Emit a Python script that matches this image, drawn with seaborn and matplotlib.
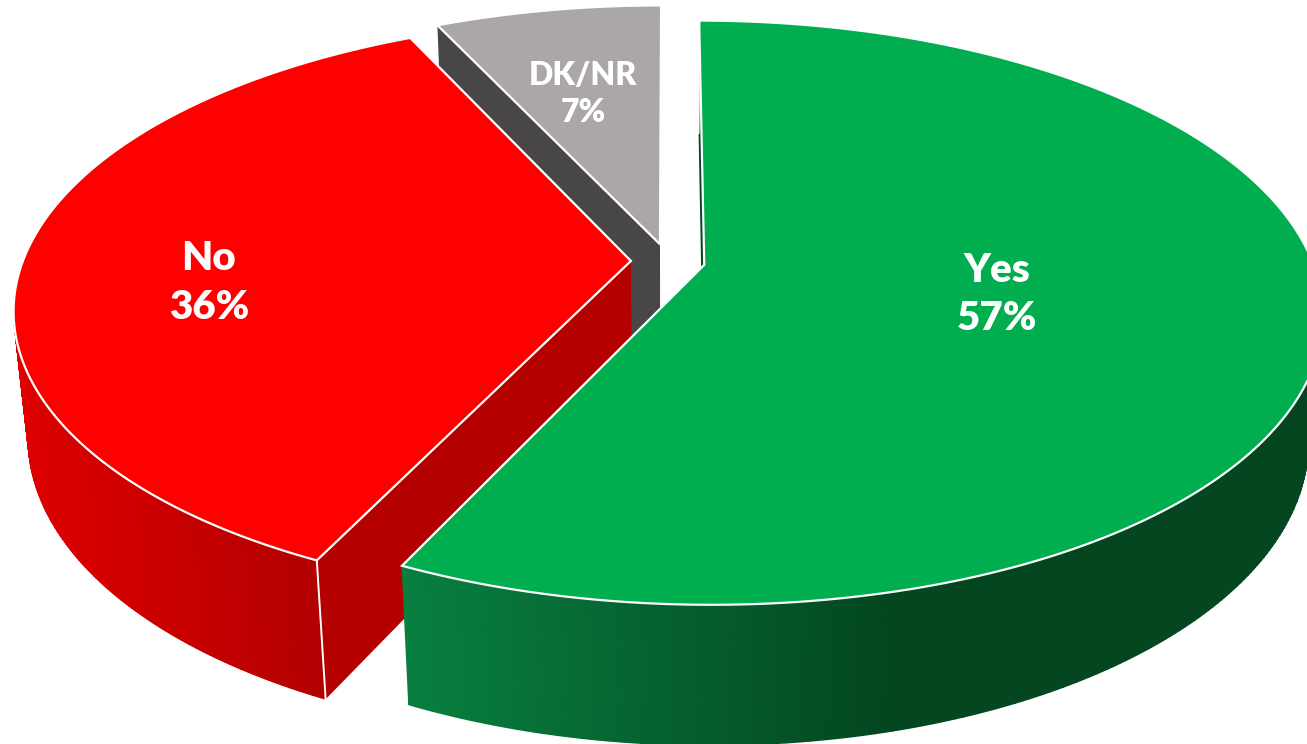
import numpy as np
import matplotlib
matplotlib.use("Agg")
import matplotlib.pyplot as plt
import seaborn as sns

# survey result, clockwise from 12 o'clock
labels = ["Yes", "No", "DK/NR"]
shares = [57.1, 35.9, 7.0]

top_colors = ["#00AE4F", "#FF0000", "#AAA7A6"]
cut_colors = ["#034620", "#B50000", "#484646"]
rim_light = ["#08803F", "#DE0000"]
rim_dark = ["#034620", "#B20000"]

# perspective of the tilted pie, in pixels
CX, CY = 668, 261
A, B, C = 608, 283, 128
K, M = 0.1635, 0.022
EXPLODE = 0.061

sns.set_theme(style="white")
plt.rcParams["font.family"] = ["Lato", "DejaVu Sans"]


def project(u, v, z=0.0):
    w = 1 + K * v + M * z
    return CX + A * u / w, CY - (B * v - C * z) / w


def disc(a, off):
    return off[0] + np.sin(a), off[1] + np.cos(a)


fig = plt.figure(figsize=(13.07, 7.44), dpi=100)
ax = fig.add_axes([0, 0, 1, 1])
ax.set_xlim(0, 1307)
ax.set_ylim(744, 0)
ax.axis("off")

edges = np.cumsum([0] + shares) / sum(shares) * 2 * np.pi
slices = []
for i in range(len(shares)):
    mid = (edges[i] + edges[i + 1]) / 2
    slices.append((edges[i], edges[i + 1], (EXPLODE * np.sin(mid), EXPLODE * np.cos(mid))))

# back to front so the big slice ends up on top
for i in [2, 1, 0]:
    a0, a1, off = slices[i]
    base = -10 * i + 30

    # flat cut face at the start of the slice
    pu, pv = disc(a0, off)
    corners = [project(*off), project(pu, pv), project(pu, pv, 1), project(*off, 1)]
    ax.fill(*zip(*corners), color=cut_colors[i], lw=0, zorder=base)

    angs = np.linspace(a0, a1, 300)
    u, v = disc(angs, off)
    tx, ty = project(u, v)

    # rim, only the front part, shaded left to right
    if i < 2:
        front = np.cos(angs) < 0
        bx, by = project(u[front], v[front], 1)
        cmap = sns.blend_palette([rim_light[i], rim_dark[i]], as_cmap=True)
        span = (400, 900) if i == 0 else (20, 320)
        shade = np.clip((tx[front] - span[0]) / (span[1] - span[0]), 0, 1)
        ax.pcolormesh(np.vstack([tx[front], bx]), np.vstack([ty[front], by]),
                      np.vstack([shade, shade]), shading="gouraud", cmap=cmap,
                      vmin=0, vmax=1, zorder=base + 1)

    # top face with white outline
    ox, oy = project(*off)
    ax.fill(np.r_[ox, tx], np.r_[oy, ty], facecolor=top_colors[i],
            edgecolor="white", lw=1.6, joinstyle="miter", zorder=base + 2)

    # white line where the cut meets the rim
    if i < 2:
        ax.plot([corners[1][0], corners[2][0]], [corners[1][1], corners[2][1]],
                color="white", lw=1.4, zorder=base + 3)

ax.text(997, 294.5, f"{labels[0]}\n{shares[0]:.0f}%", color="white", fontsize=29, fontweight="heavy",
        ha="center", va="center", linespacing=1.34, zorder=50)
ax.text(209, 283, f"{labels[1]}\n{shares[1]:.0f}%", color="white", fontsize=29, fontweight="heavy",
        ha="center", va="center", linespacing=1.42, zorder=50)
ax.text(583, 94, f"{labels[2]}\n{shares[2]:.0f}%", color="white", fontsize=23, fontweight="heavy",
        ha="center", va="center", linespacing=1.36, zorder=50)

fig.savefig("out.png", dpi=100, facecolor="white")
